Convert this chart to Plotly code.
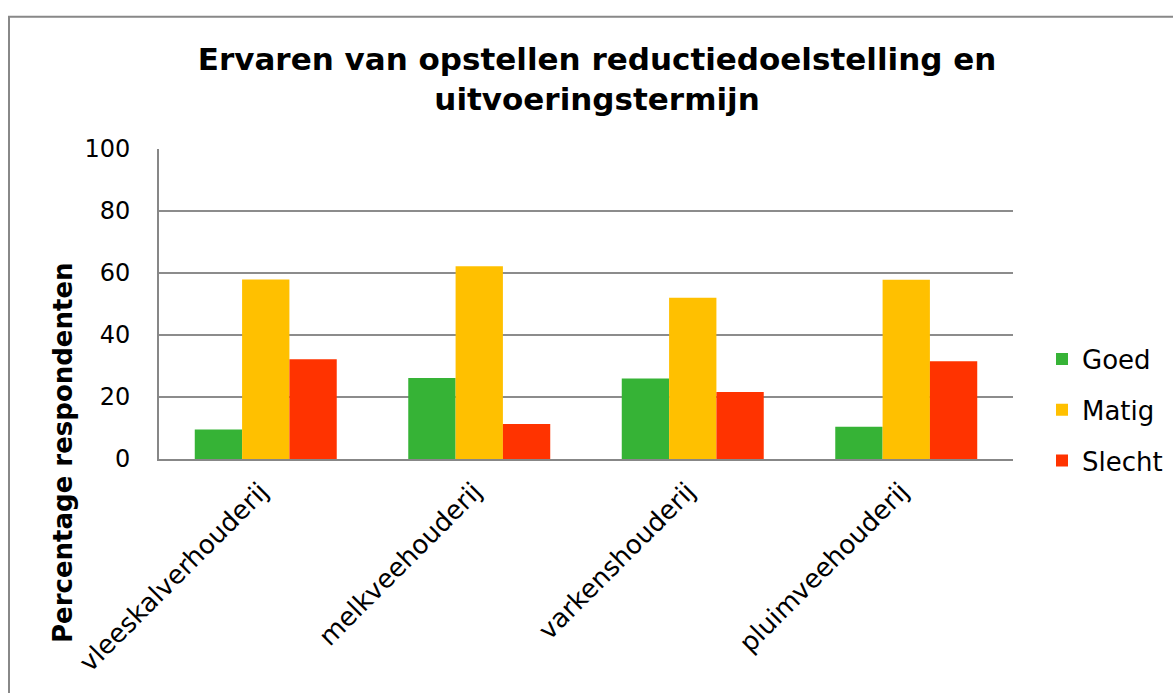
import plotly.graph_objects as go

categories = ["vleeskalverhouderij", "melkveehouderij", "varkenshouderij", "pluimveehouderij"]
goed = [9.5, 26.1, 26.0, 10.4]
matig = [57.9, 62.2, 52.0, 57.8]
slecht = [32.2, 11.3, 21.6, 31.5]
series_names = ["Goed", "Matig", "Slecht"]
colors = ["#36B336", "#FFC000", "#FF3300"]

FONT = "DejaVu Sans"
fig = go.Figure()
for name, vals, col in zip(series_names, [goed, matig, slecht], colors):
    fig.add_trace(go.Bar(x=categories, y=vals, name=name, legendgroup=name,
                         marker=dict(color=col, line=dict(width=0))))

W, H = 1173, 693
L, R, T, B = 159, 160, 149, 234
pw = W - L - R
ph = H - T - B
y0px = H - B  # pixel of y=0

fig.update_layout(
    width=W, height=H,
    margin=dict(l=L, r=R, t=T, b=B, autoexpand=False),
    paper_bgcolor="white", plot_bgcolor="white",
    barmode="group", bargap=0.335, bargroupgap=0,
    font=dict(family=FONT, size=24, color="black"),
    title=dict(text="Ervaren van opstellen reductiedoelstelling en<br>uitvoeringstermijn",
               font=dict(family=FONT, size=31, color="black", weight="bold"),
               x=0.509, xanchor="center", xref="container",
               y=1 - 70 / H, yanchor="top", yref="container"),
    legend=dict(x=(1042 - L) / pw, xanchor="left", y=(y0px - 410) / ph, yanchor="middle",
                font=dict(family=FONT, size=26), tracegroupgap=14,
                bgcolor="rgba(0,0,0,0)", itemwidth=30),
    showlegend=True,
)
fig.update_xaxes(showline=True, linecolor="#878787", linewidth=2, tickangle=-45,
                 ticks="", tickfont=dict(family=FONT, size=26, color="black"),
                 ticklabelstandoff=5, ticklabelshift=-5, showgrid=False)
fig.update_yaxes(range=[0, 100], dtick=20, showgrid=True, gridcolor="#8C8C8C", gridwidth=1.5,
                 showline=True, linecolor="#878787", linewidth=2, ticks="",
                 tickfont=dict(family=FONT, size=24, color="black"),
                 ticklabelstandoff=22, zeroline=False)
# y-axis title (placed low, as in the original)
fig.add_annotation(text="<b>Percentage respondenten</b>", textangle=-90,
                   xref="paper", yref="paper",
                   x=(63 - L) / pw, y=(y0px - 453) / ph, xanchor="center", yanchor="middle",
                   showarrow=False, font=dict(family=FONT, size=26, color="black"))
# chart border (extends past right and bottom edges, as in the original crop)
fig.add_shape(type="rect", xref="paper", yref="paper",
              x0=(9 - L) / pw, x1=(1250 - L) / pw,
              y0=(y0px - 760) / ph, y1=(y0px - 16.7) / ph,
              line=dict(color="#888888", width=2), fillcolor="rgba(0,0,0,0)", layer="below")

fig.write_html("out.html", config={"displayModeBar": False},
               post_script="document.body.style.margin='0';document.body.style.overflow='hidden';")
